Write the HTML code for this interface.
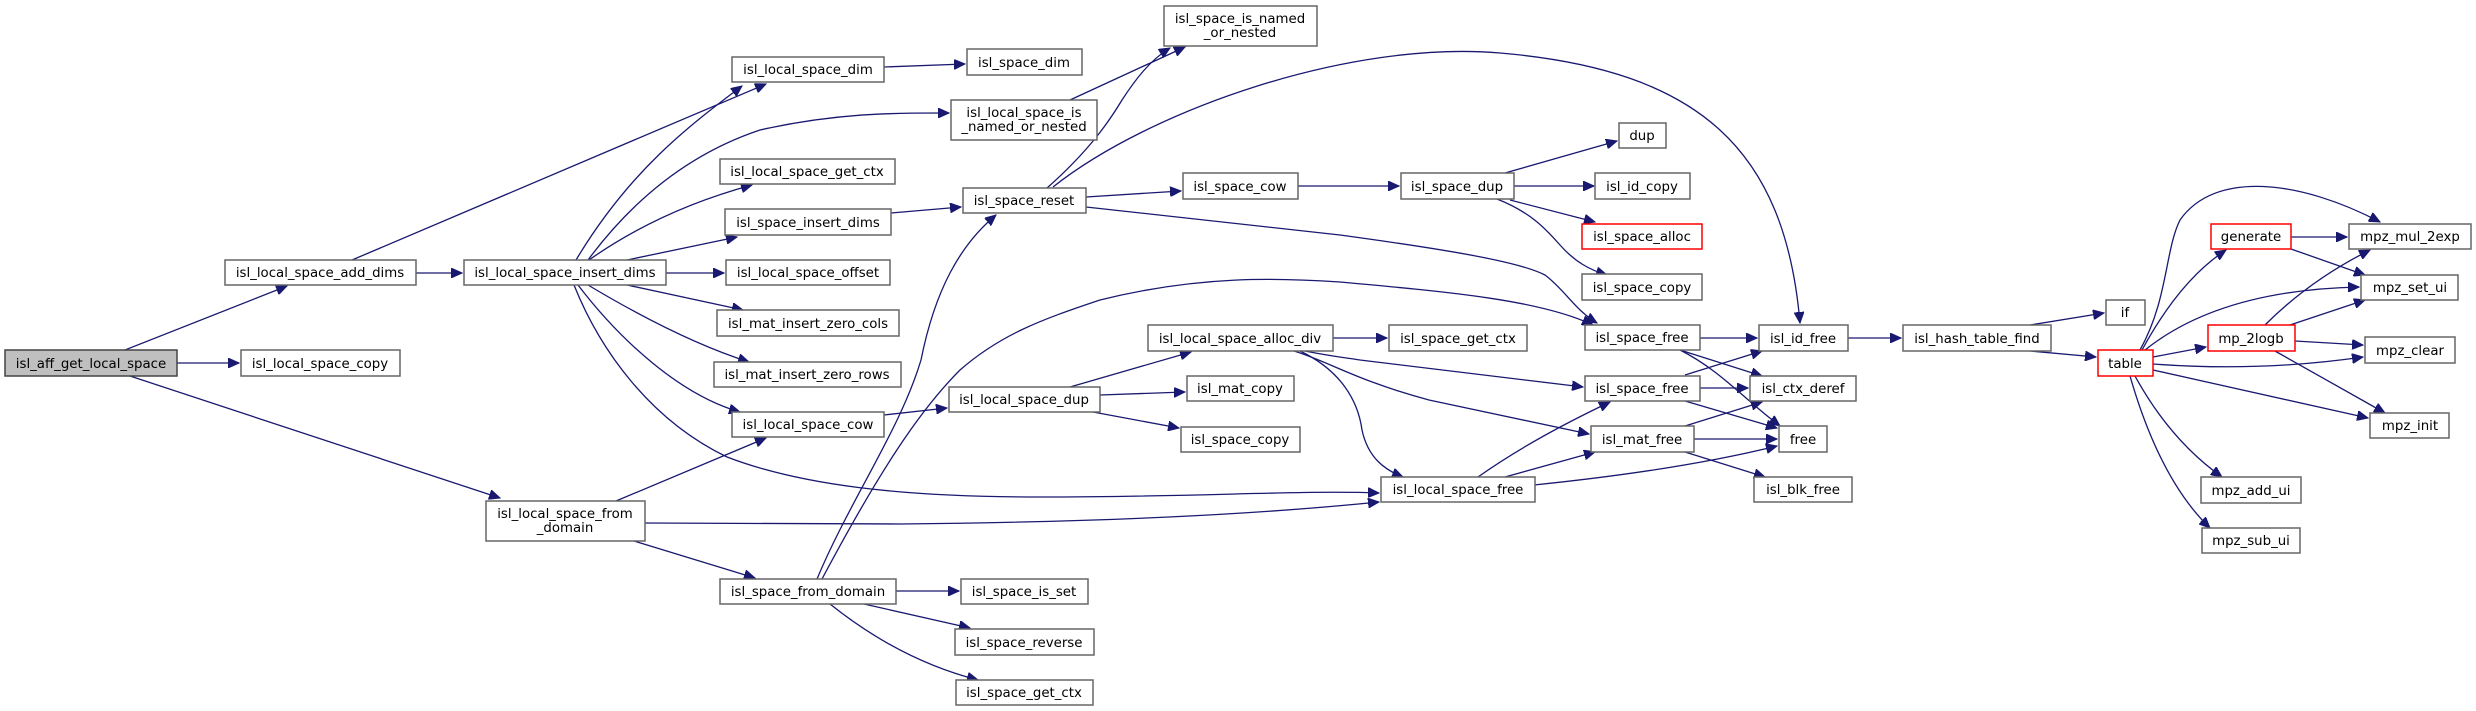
<!DOCTYPE html>
<html><head><meta charset="utf-8"><style>
html,body{margin:0;padding:0;background:#fff}
svg{display:block}
text{font-family:"DejaVu Sans","Liberation Sans",sans-serif;font-size:13.33px;fill:#000;text-anchor:middle}
.n{fill:#fff;stroke:#666;stroke-width:1.5}
.r{fill:#fff;stroke:#ff0000;stroke-width:1.5}
.g{fill:#bfbfbf;stroke:#444;stroke-width:1.5}
.e{fill:none;stroke:#191970;stroke-width:1.3;marker-end:url(#a)}
</style></head><body>
<svg width="2476" height="711" viewBox="0 0 2476 711" xmlns="http://www.w3.org/2000/svg">
<defs><marker id="a" markerUnits="userSpaceOnUse" markerWidth="12" markerHeight="10" refX="11" refY="5" orient="auto"><path d="M0,0 L11,5 L0,10 z" fill="#191970" stroke="#191970"/></marker></defs>

<!-- edges -->
<path class="e" d="M125,350 L287,286"/>
<path class="e" d="M177,363 L239,363"/>
<path class="e" d="M130,376 L500,498"/>
<path class="e" d="M352,260 L766,84"/>
<path class="e" d="M416,273 L462,273"/>
<path class="e" d="M576,260 C630,170 690,125 742,86"/>
<path class="e" d="M588,260 C640,190 700,150 760,130 C840,112 900,113 949,113"/>
<path class="e" d="M589,260 Q660,210 752,185"/>
<path class="e" d="M627,260 L737,237"/>
<path class="e" d="M666,273 L724,273"/>
<path class="e" d="M627,285 L743,310"/>
<path class="e" d="M588,285 Q680,340 749,362"/>
<path class="e" d="M578,285 C620,340 680,395 740,412"/>
<path class="e" d="M574,285 C600,350 650,420 727,457 C800,485 900,497 1040,497 C1200,497 1300,490 1379,493"/>
<path class="e" d="M645,523 L900,524 C1100,522 1250,515 1379,502"/>
<path class="e" d="M616,501 L766,438"/>
<path class="e" d="M634,541 L755,578"/>
<path class="e" d="M884,67 L965,64"/>
<path class="e" d="M1070,100 L1185,47"/>
<path class="e" d="M1047,188 C1090,150 1110,120 1122,100 C1135,80 1150,60 1170,48"/>
<path class="e" d="M1053,187 C1150,110 1350,40 1500,53 C1700,70 1785,150 1800,323"/>
<path class="e" d="M891,213 L961,207"/>
<path class="e" d="M1086,197 L1181,191"/>
<path class="e" d="M1298,186 L1399,186"/>
<path class="e" d="M1086,207 L1340,235 C1450,250 1520,262 1545,275 C1565,290 1575,310 1597,323"/>
<path class="e" d="M817,579 C850,500 900,430 921,360 C935,290 960,245 996,215"/>
<path class="e" d="M822,579 C880,470 920,410 960,370 C1000,335 1040,320 1100,300 C1200,275 1280,278 1340,282 C1450,292 1540,300 1593,325"/>
<path class="e" d="M896,591 L959,591"/>
<path class="e" d="M864,604 L970,628"/>
<path class="e" d="M830,604 Q900,660 978,680"/>
<path class="e" d="M884,415 L947,408"/>
<path class="e" d="M1070,387 L1191,352"/>
<path class="e" d="M1100,395 L1185,392"/>
<path class="e" d="M1093,412 L1179,428"/>
<path class="e" d="M1333,338 L1387,338"/>
<path class="e" d="M1305,351 C1330,356 1340,357 1360,360 L1583,387"/>
<path class="e" d="M1294,351 C1330,362 1355,380 1429,400 L1589,434"/>
<path class="e" d="M1300,351 C1340,370 1358,400 1362,430 C1368,458 1385,470 1403,477"/>
<path class="e" d="M1505,173 L1617,141"/>
<path class="e" d="M1514,186 L1594,186"/>
<path class="e" d="M1510,200 L1595,222"/>
<path class="e" d="M1497,199 C1530,212 1545,228 1560,245 C1575,262 1590,270 1607,275"/>
<path class="e" d="M1700,338 L1757,338"/>
<path class="e" d="M1680,350 L1762,376"/>
<path class="e" d="M1680,350 C1720,370 1745,400 1780,426"/>
<path class="e" d="M1685,375 L1762,351"/>
<path class="e" d="M1700,388 L1748,388"/>
<path class="e" d="M1685,401 L1777,428"/>
<path class="e" d="M1685,426 L1762,402"/>
<path class="e" d="M1694,439 L1777,439"/>
<path class="e" d="M1685,452 L1765,477"/>
<path class="e" d="M1478,477 Q1530,440 1610,402"/>
<path class="e" d="M1505,477 L1595,452"/>
<path class="e" d="M1534,485 Q1680,470 1777,446"/>
<path class="e" d="M1848,338 L1901,338"/>
<path class="e" d="M2030,325 L2104,313"/>
<path class="e" d="M2030,351 L2096,357"/>
<path class="e" d="M2142,350 Q2180,280 2226,250"/>
<path class="e" d="M2140,350 C2168,300 2165,250 2180,220 C2215,170 2300,180 2380,222"/>
<path class="e" d="M2145,350 Q2220,290 2359,287"/>
<path class="e" d="M2153,357 L2206,347"/>
<path class="e" d="M2153,364 Q2260,372 2363,357"/>
<path class="e" d="M2153,370 L2368,418"/>
<path class="e" d="M2135,376 Q2170,440 2222,477"/>
<path class="e" d="M2130,376 Q2160,480 2210,528"/>
<path class="e" d="M2291,237 L2347,237"/>
<path class="e" d="M2291,249 L2365,275"/>
<path class="e" d="M2265,325 Q2310,280 2370,250"/>
<path class="e" d="M2290,325 L2365,300"/>
<path class="e" d="M2295,341 L2363,345"/>
<path class="e" d="M2275,351 L2385,413"/>

<!-- nodes -->
<rect class="g" x="5" y="350" width="172" height="26"/><text x="91" y="368">isl_aff_get_local_space</text>
<rect class="n" x="241" y="350" width="159" height="26"/><text x="320" y="368">isl_local_space_copy</text>
<rect class="n" x="225" y="260" width="191" height="25"/><text x="320" y="277">isl_local_space_add_dims</text>
<rect class="n" x="464" y="260" width="202" height="25"/><text x="565" y="277">isl_local_space_insert_dims</text>
<rect class="n" x="486" y="501" width="159" height="40"/><text x="565" y="518">isl_local_space_from</text><text x="565" y="532">_domain</text>
<rect class="n" x="732" y="57" width="152" height="25"/><text x="808" y="74">isl_local_space_dim</text>
<rect class="n" x="967" y="49" width="115" height="26"/><text x="1024" y="67">isl_space_dim</text>
<rect class="n" x="951" y="100" width="146" height="40"/><text x="1024" y="117">isl_local_space_is</text><text x="1024" y="131">_named_or_nested</text>
<rect class="n" x="1164" y="6" width="153" height="40"/><text x="1240" y="23">isl_space_is_named</text><text x="1240" y="37">_or_nested</text>
<rect class="n" x="720" y="159" width="175" height="25"/><text x="807" y="176">isl_local_space_get_ctx</text>
<rect class="n" x="725" y="209" width="166" height="26"/><text x="808" y="227">isl_space_insert_dims</text>
<rect class="n" x="963" y="188" width="123" height="25"/><text x="1024" y="205">isl_space_reset</text>
<rect class="n" x="1183" y="173" width="115" height="26"/><text x="1240" y="191">isl_space_cow</text>
<rect class="n" x="1401" y="173" width="113" height="26"/><text x="1457" y="191">isl_space_dup</text>
<rect class="n" x="726" y="260" width="164" height="25"/><text x="808" y="277">isl_local_space_offset</text>
<rect class="n" x="717" y="310" width="182" height="26"/><text x="808" y="328">isl_mat_insert_zero_cols</text>
<rect class="n" x="1148" y="325" width="185" height="26"/><text x="1240" y="343">isl_local_space_alloc_div</text>
<rect class="n" x="1389" y="325" width="138" height="26"/><text x="1458" y="343">isl_space_get_ctx</text>
<rect class="n" x="714" y="362" width="187" height="25"/><text x="807" y="379">isl_mat_insert_zero_rows</text>
<rect class="n" x="732" y="412" width="152" height="25"/><text x="808" y="429">isl_local_space_cow</text>
<rect class="n" x="949" y="387" width="151" height="25"/><text x="1024" y="404">isl_local_space_dup</text>
<rect class="n" x="1187" y="376" width="107" height="25"/><text x="1240" y="393">isl_mat_copy</text>
<rect class="n" x="1181" y="427" width="119" height="25"/><text x="1240" y="444">isl_space_copy</text>
<rect class="n" x="1381" y="477" width="154" height="25"/><text x="1458" y="494">isl_local_space_free</text>
<rect class="n" x="720" y="579" width="176" height="25"/><text x="808" y="596">isl_space_from_domain</text>
<rect class="n" x="961" y="579" width="127" height="25"/><text x="1024" y="596">isl_space_is_set</text>
<rect class="n" x="955" y="629" width="139" height="26"/><text x="1024" y="647">isl_space_reverse</text>
<rect class="n" x="956" y="680" width="137" height="25"/><text x="1024" y="697">isl_space_get_ctx</text>
<rect class="n" x="1619" y="123" width="47" height="25"/><text x="1642" y="140">dup</text>
<rect class="n" x="1595" y="173" width="95" height="26"/><text x="1642" y="191">isl_id_copy</text>
<rect class="r" x="1582" y="224" width="120" height="25"/><text x="1642" y="241">isl_space_alloc</text>
<rect class="n" x="1582" y="274" width="120" height="26"/><text x="1642" y="292">isl_space_copy</text>
<rect class="n" x="1585" y="325" width="115" height="25"/><text x="1642" y="342">isl_space_free</text>
<rect class="n" x="1759" y="325" width="89" height="26"/><text x="1803" y="343">isl_id_free</text>
<rect class="n" x="1903" y="325" width="148" height="26"/><text x="1977" y="343">isl_hash_table_find</text>
<rect class="n" x="2106" y="300" width="39" height="25"/><text x="2125" y="317">if</text>
<rect class="r" x="2098" y="350" width="55" height="26"/><text x="2125" y="368">table</text>
<rect class="n" x="1585" y="376" width="115" height="25"/><text x="1642" y="393">isl_space_free</text>
<rect class="n" x="1750" y="376" width="106" height="25"/><text x="1803" y="393">isl_ctx_deref</text>
<rect class="n" x="1591" y="426" width="103" height="26"/><text x="1642" y="444">isl_mat_free</text>
<rect class="n" x="1779" y="426" width="48" height="26"/><text x="1803" y="444">free</text>
<rect class="n" x="1754" y="477" width="98" height="25"/><text x="1803" y="494">isl_blk_free</text>
<rect class="r" x="2211" y="224" width="80" height="25"/><text x="2251" y="241">generate</text>
<rect class="n" x="2349" y="224" width="122" height="25"/><text x="2410" y="241">mpz_mul_2exp</text>
<rect class="n" x="2361" y="275" width="97" height="25"/><text x="2410" y="292">mpz_set_ui</text>
<rect class="r" x="2208" y="325" width="87" height="26"/><text x="2251" y="343">mp_2logb</text>
<rect class="n" x="2365" y="337" width="90" height="26"/><text x="2410" y="355">mpz_clear</text>
<rect class="n" x="2370" y="413" width="79" height="25"/><text x="2410" y="430">mpz_init</text>
<rect class="n" x="2201" y="477" width="100" height="26"/><text x="2251" y="495">mpz_add_ui</text>
<rect class="n" x="2202" y="528" width="98" height="25"/><text x="2251" y="545">mpz_sub_ui</text>
</svg>
</body></html>
